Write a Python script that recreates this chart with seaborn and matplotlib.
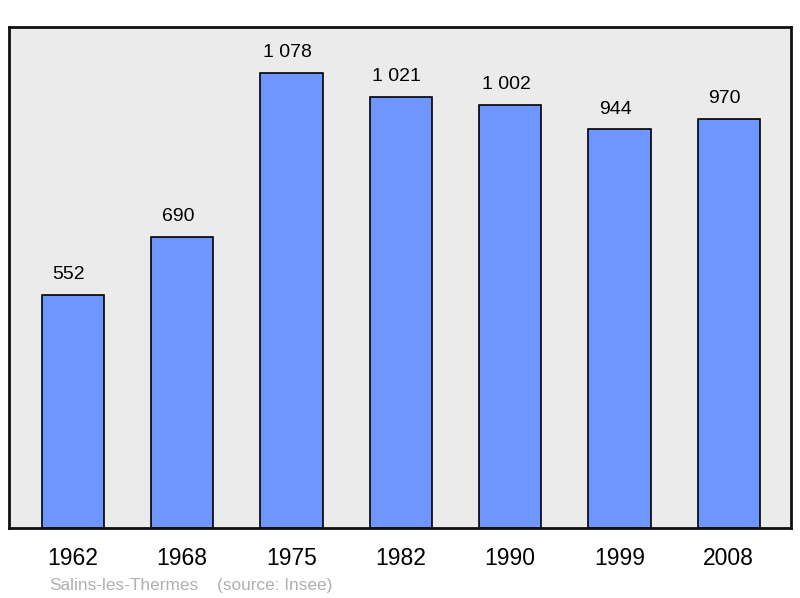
import matplotlib
matplotlib.use("Agg")
import matplotlib.pyplot as plt
import seaborn as sns
import pandas as pd

# population data
years = ["1962", "1968", "1975", "1982", "1990", "1999", "2008"]
population = [552, 690, 1078, 1021, 1002, 944, 970]
value_labels = ["552", "690", "1 078", "1 021", "1 002", "944", "970"]
commune = "Salins-les-Thermes"
source = "(source: Insee)"

sns.set_style("white")
plt.rcParams["font.family"] = ["Liberation Sans", "DejaVu Sans"]

df = pd.DataFrame({"year": years, "pop": population})

fig = plt.figure(figsize=(8, 5.98), dpi=100)
ax = fig.add_axes([0.01125, 0.117, 0.9775, 0.838])
ax.set_facecolor("#ebebeb")

sns.barplot(data=df, x="year", y="pop", color="#6f96ff", saturation=1,
            edgecolor="black", linewidth=1.2, width=0.57, ax=ax)

for i, (v, lab) in enumerate(zip(population, value_labels)):
    ax.annotate(lab, (i, v), xytext=(-3, 14.5), textcoords="offset points",
                ha="center", va="center", fontsize=14, color="black")

ax.set_xlim(-0.585, 6.57)
ax.set_ylim(0, 1187)
ax.set_yticks([])
ax.set_xlabel("")
ax.set_ylabel("")
ax.tick_params(axis="x", length=0, labelsize=16.5, pad=14, labelcolor="black")
for sp in ax.spines.values():
    sp.set_visible(True)
    sp.set_linewidth(2)
    sp.set_color("#111111")

fig.text(49 / 800, 1 - 585.5 / 598, commune, fontsize=12.4, color="#b0b0b0",
         ha="left", va="center")
fig.text(217 / 800, 1 - 585.5 / 598, source, fontsize=12.4, color="#b0b0b0",
         ha="left", va="center")

fig.savefig("out.png", dpi=100)
